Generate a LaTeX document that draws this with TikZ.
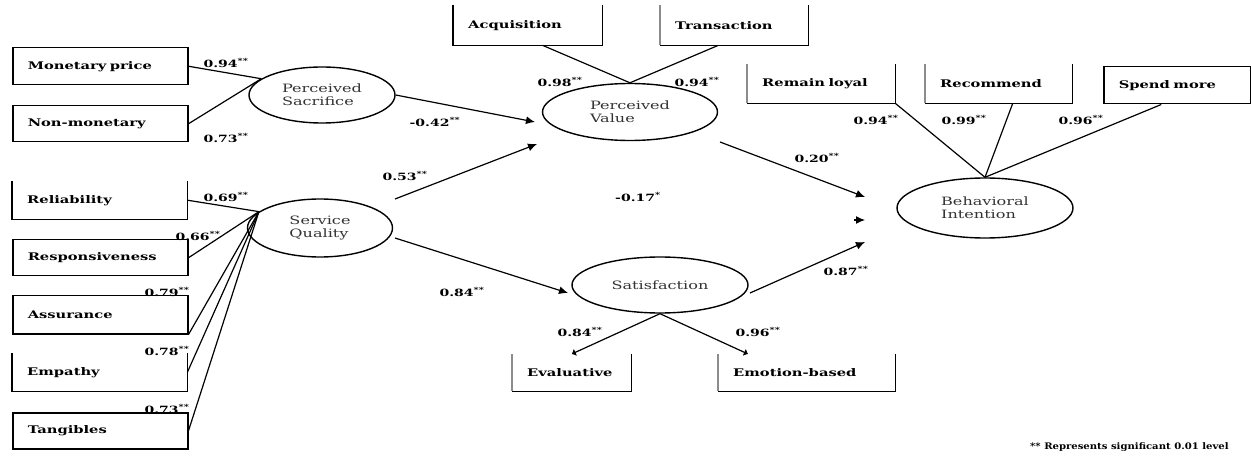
\documentclass[tikz,border=0pt]{standalone}
\usepackage{fontspec}
\setmainfont{DejaVu Serif}[FakeStretch=1.4]
\newfontfamily\notefont{DejaVu Serif}[FakeStretch=1.12]
\usetikzlibrary{shapes.geometric,arrows.meta}
\begin{document}
\begin{tikzpicture}[x=1pt,y=-1pt,
  box/.style={rectangle, inner ysep=0pt, inner xsep=15pt, anchor=north west, align=left,
    font=\bfseries\fontsize{10.5}{12}\selectfont},
  fullbox/.style={box, draw, line width=1.5pt},
  coef/.style={font=\bfseries\fontsize{10}{12}\selectfont, inner sep=0pt},
  lat/.style={ellipse, draw, line width=1.4pt, inner sep=0pt, align=left,
    font=\fontsize{11.5}{13}\selectfont, text=black!80},
  ln/.style={line width=1.2pt},
  arr/.style={line width=1.2pt, -{Latex[length=9pt,width=8pt]}},
  tip/.style={line width=1.2pt, -{Latex[length=4pt,width=8pt]}},
  edge/.style={line width=1.5pt},
  grayedge/.style={line width=1.5pt, black!45}]
\useasboundingbox (0,0) rectangle (1251,457);

% ---- indicator boxes ----
\node[fullbox, minimum width=175pt, minimum height=37pt, text width=145pt] (mp) at (12,47) {Monetary price};
\node[fullbox, minimum width=175pt, minimum height=36pt, text width=145pt] (nm) at (12,105) {Non-monetary};
\node[box, minimum width=175pt, minimum height=38pt, text width=145pt] (rel) at (12,181) {Reliability};
\node[fullbox, minimum width=175pt, minimum height=36pt, text width=145pt] (resp) at (12,239) {Responsiveness};
\node[fullbox, minimum width=175pt, minimum height=38pt, text width=145pt] (assu) at (12,295) {Assurance};
\node[box, minimum width=175pt, minimum height=38pt, text width=145pt] (emp) at (12,353) {Empathy};
\node[fullbox, minimum width=175pt, minimum height=36pt, text width=145pt] (tang) at (12,412) {Tangibles};
\node[box, minimum width=149pt, minimum height=40pt, text width=119pt] (acq) at (453,5) {Acquisition};
\node[box, minimum width=148pt, minimum height=40pt, text width=118pt] (tra) at (660,5) {Transaction};
\node[box, minimum width=148pt, minimum height=39pt, text width=118pt] (rl) at (747,64) {Remain loyal};
\node[box, minimum width=147pt, minimum height=39pt, text width=117pt] (rec) at (925,64) {Recommend};
\node[fullbox, minimum width=147pt, minimum height=37pt, text width=117pt] (sm) at (1103,66) {Spend more};
\node[box, minimum width=119pt, minimum height=37pt, text width=89pt] (eva) at (512,354) {Evaluative};
\node[box, minimum width=177pt, minimum height=37pt, text width=147pt] (emo) at (718,354) {Emotion-based};

% open-topped boxes
\draw[edge] (rel.north west) -- (rel.south west) -- (rel.south east) -- (rel.north east);
\draw[edge] (emp.north west) -- (emp.south west) -- (emp.south east) -- (emp.north east);
\draw[edge] (acq.north west) -- (acq.south west) -- (acq.south east) -- (acq.north east);
\draw[grayedge] (tra.north west) -- (tra.south west);
\draw[edge] (tra.south west) -- (tra.south east) -- (tra.north east);
\draw[grayedge] (rl.north west) -- (rl.south west);
\draw[edge] (rl.south west) -- (rl.south east) -- (rl.north east);
\draw[grayedge] (rec.north west) -- (rec.south west);
\draw[edge] (rec.south west) -- (rec.south east) -- (rec.north east);
\draw[grayedge] (eva.north west) -- (eva.south west);
\draw[edge] (eva.south west) -- (eva.south east) -- (eva.north east);
\draw[grayedge] (emo.north west) -- (emo.south west);
\draw[edge] (emo.south west) -- (emo.south east) -- (emo.north east);

% ---- latent variables ----
\node[lat, minimum width=146pt, minimum height=56pt] (ps) at (322,95) {Perceived\\Sacrifice};
\node[lat, minimum width=145pt, minimum height=58pt] (sq) at (320,228) {Service\\Quality};
\node[lat, minimum width=175pt, minimum height=57pt] (pv) at (630,112) {Perceived\\Value};
\node[lat, minimum width=176pt, minimum height=56pt] (sat) at (660,285) {Satisfaction};
\node[lat, minimum width=176pt, minimum height=60pt] (bi) at (985,208) {Behavioral\\Intention};

% ---- measurement lines ----
\draw[ln] (mp.east) -- (ps.165);
\draw[ln] (nm.east) -- (ps.165);
\draw[ln] (rel.east) -- (sq.165);
\draw[ln] (resp.east) -- (sq.165);
\draw[ln] (assu.south east) -- (sq.165);
\draw[ln] (emp.east) -- (sq.165);
\draw[ln] (tang.east) -- (sq.165);
\draw[ln] ([xshift=15pt]acq.south) -- (pv.north);
\draw[ln] ([xshift=-16pt]tra.south) -- (pv.north);
\draw[ln] (rl.south east) -- (bi.north);
\draw[ln] ([xshift=14pt]rec.south) -- (bi.north);
\draw[ln] ([xshift=-16pt]sm.south) -- (bi.north);
\draw[tip] (sat.south) -- (eva.north);
\draw[tip] (sat.south) -- ([xshift=30pt]emo.north west);

% ---- structural paths ----
\coordinate (pvin1) at (535,122);
\coordinate (pvin2) at (537,144);
\coordinate (satin) at (568,293);
\coordinate (biin1) at (865,197);
\coordinate (biin2s) at (854,220);
\coordinate (biin2) at (865,220);
\coordinate (biin3) at (865,242);
\draw[arr] (ps.east) -- (pvin1);
\draw[arr] ([xshift=75pt,yshift=29pt]sq.center) -- (pvin2);
\draw[arr] ([xshift=75pt,yshift=-10pt]sq.center) -- (satin);
\draw[arr] ([xshift=90pt,yshift=-30pt]pv.center) -- (biin1);
\draw[arr] (biin2s) -- (biin2);
\draw[arr] ([xshift=90pt,yshift=-8pt]sat.center) -- (biin3);

% ---- coefficients ----
\node[coef] (c1) at (226,63) {0.94\textsuperscript{**}};
\node[coef] (c2) at (226,138) {0.73\textsuperscript{**}};
\node[coef] (c3) at (226,197) {0.69\textsuperscript{**}};
\node[coef] (c4) at (198,236) {0.66\textsuperscript{**}};
\node[coef] (c5) at (167,292) {0.79\textsuperscript{**}};
\node[coef] (c6) at (167,351) {0.78\textsuperscript{**}};
\node[coef] (c7) at (167,409) {0.73\textsuperscript{**}};
\node[coef] (c8) at (435,122) {-0.42\textsuperscript{**}};
\node[coef] (c9) at (405,176) {0.53\textsuperscript{**}};
\node[coef] (c10) at (638,197) {-0.17\textsuperscript{*}};
\node[coef] (c11) at (462,292) {0.84\textsuperscript{**}};
\node[coef] (c12) at (560,82) {0.98\textsuperscript{**}};
\node[coef] (c13) at (697,82) {0.94\textsuperscript{**}};
\node[coef] (c14) at (817,158) {0.20\textsuperscript{**}};
\node[coef] (c15) at (846,271) {0.87\textsuperscript{**}};
\node[coef] (c16) at (876,120) {0.94\textsuperscript{**}};
\node[coef] (c17) at (964,120) {0.99\textsuperscript{**}};
\node[coef] (c18) at (1081,120) {0.96\textsuperscript{**}};
\node[coef] (c19) at (580,332) {0.84\textsuperscript{**}};
\node[coef] (c20) at (758,332) {0.96\textsuperscript{**}};

\node[inner sep=0pt, anchor=west, font=\notefont\bfseries\fontsize{9}{11}\selectfont] (note) at (1030,447) {** Represents significant 0.01 level};
\end{tikzpicture}
\end{document}
